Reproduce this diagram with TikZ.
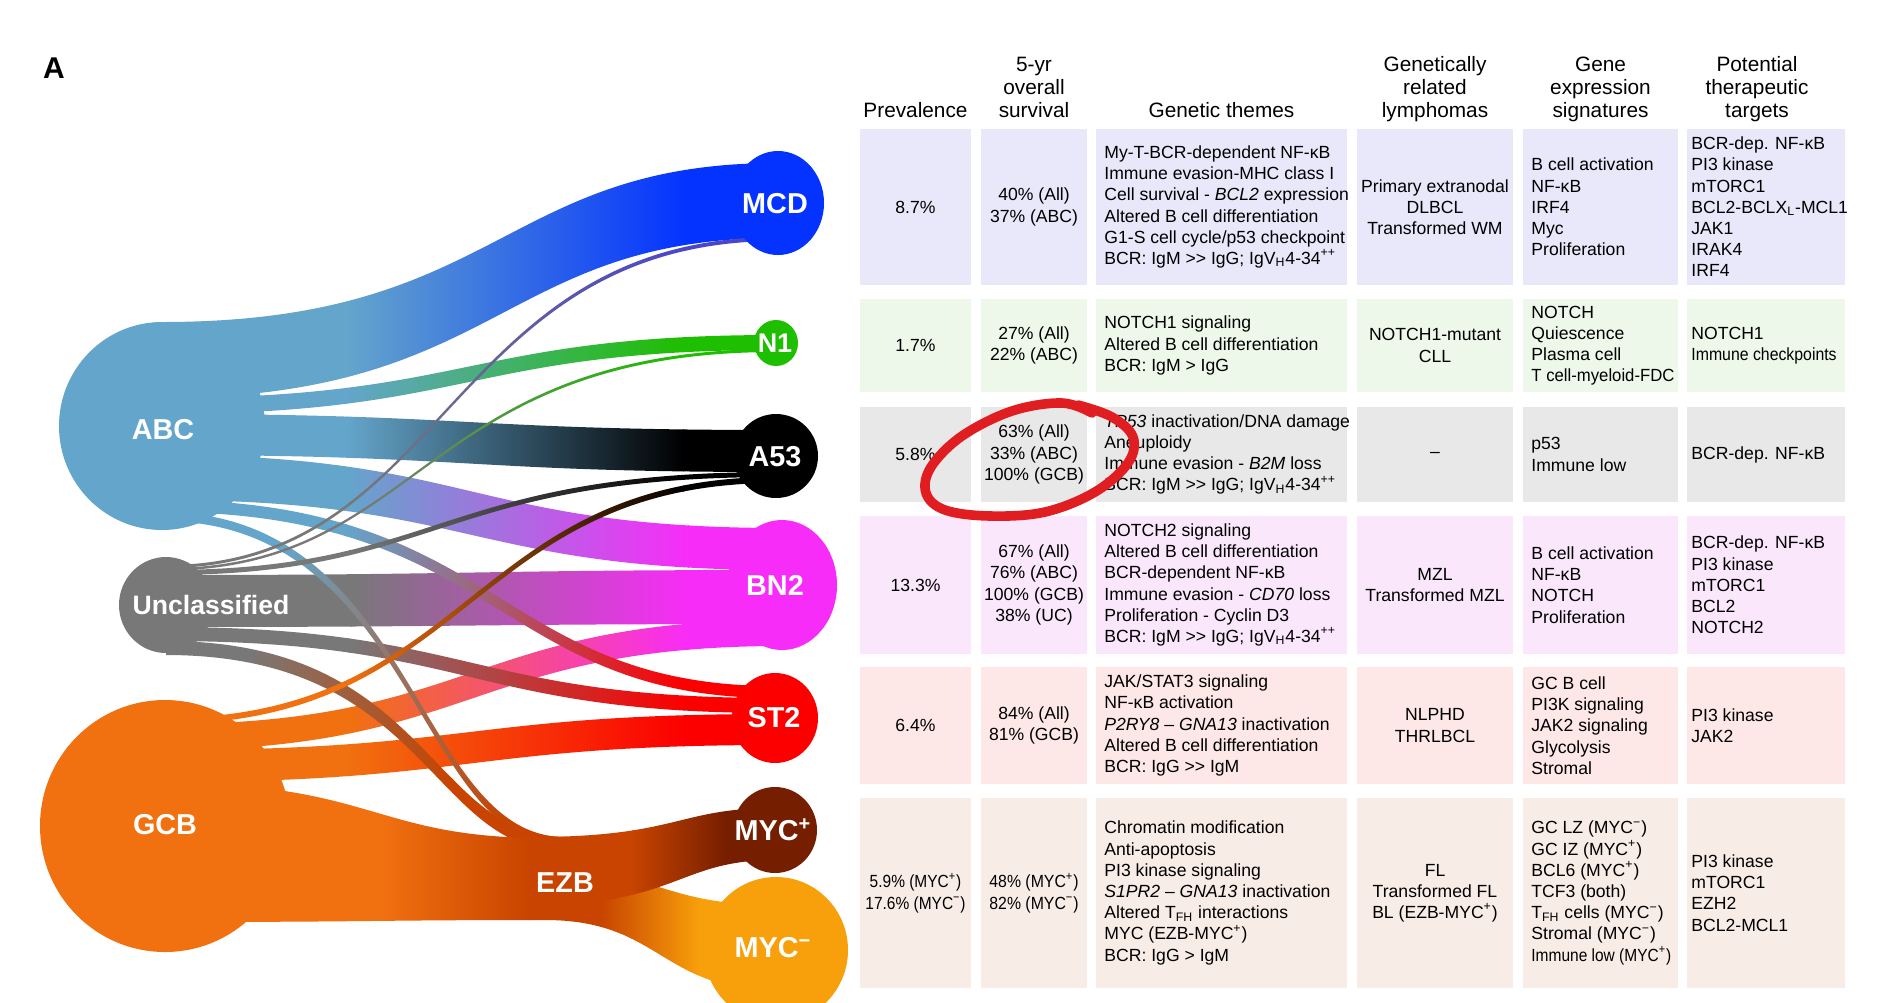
\documentclass[tikz,border=0pt]{standalone}
\usepackage{fontspec}
\setmainfont{Liberation Sans}
\usetikzlibrary{shapes.geometric}

\definecolor{cABC}{HTML}{64A5CB}
\definecolor{cUNC}{HTML}{787878}
\definecolor{cGCB}{HTML}{F1700F}
\definecolor{cMCD}{HTML}{0433FF}
\definecolor{cN1}{HTML}{1EBE00}
\definecolor{cA53}{HTML}{000000}
\definecolor{cBN2}{HTML}{F82CF8}
\definecolor{cST2}{HTML}{FC0000}
\definecolor{cMYCp}{HTML}{761E00}
\definecolor{cMYCm}{HTML}{F8A00B}
\definecolor{cEZB}{HTML}{C84400}
\definecolor{cSlate}{HTML}{4B46C8}
\definecolor{rowA}{HTML}{E8E8FA}
\definecolor{rowB}{HTML}{EDF7EA}
\definecolor{rowC}{HTML}{E8E8E8}
\definecolor{rowD}{HTML}{FBE7FB}
\definecolor{rowE}{HTML}{FDE7E7}
\definecolor{rowF}{HTML}{F8ECE7}
\definecolor{penred}{HTML}{E01E22}

\newcommand\flowga{0.3}
\newcommand\flowgb{0.85}
% #1 source colour, #2 target colour, #3 x0, #4 x1, #5 top0, #6 bottom0, #7 top1, #8 bottom1, #9 control position
\newcommand\flow[9]{%
  \pgfmathsetmacro\fxa{#3+\flowga*(#4-#3)}%
  \pgfmathsetmacro\fxb{#3+\flowgb*(#4-#3)}%
  \pgfmathsetmacro\fcx{#3+#9*(#4-#3)}%
  \begin{scope}
    \clip (#3,#5) .. controls (\fcx,#5) and (\fcx,#7) .. (#4,#7)
      -- (#4,#8) .. controls (\fcx,#8) and (\fcx,#6) .. (#3,#6) -- cycle;
    \fill[#1] (#3-2,0) rectangle (\fxa+1,1010);
    \shade[left color=#1,right color=#2] (\fxa,0) rectangle (\fxb,1010);
    \fill[#2] (\fxb-1,0) rectangle (#4+2,1010);
  \end{scope}}

\newcommand\tabrow[3]{%
  \foreach \xl/\xr in {860/971,981/1087,1096/1347,1357/1513,1523/1678,1687/1845}{%
    \fill[#1] (\xl,#2) rectangle (\xr,#3);}}

\begin{document}
\begin{tikzpicture}[x=0.5pt,y=-0.5pt,
  blob/.style={ellipse,inner sep=0pt,draw=none},
  lbl/.style={text=white,inner sep=0pt,font=\bfseries\fontsize{14.4}{16}\selectfont},
  hdr/.style={anchor=base,inner sep=0pt,font=\fontsize{10.4}{11.5}\selectfont},
  cellc/.style={anchor=center,align=center,inner sep=0pt,font=\fontsize{8.8}{10.6}\selectfont},
  celll/.style={anchor=west,align=left,inner sep=0pt,font=\fontsize{8.8}{10.6}\selectfont}]
\useasboundingbox (0,0) rectangle (1878,1002);
\clip (0,0) rectangle (1878,1002);

\node[inner sep=0pt,font=\bfseries\fontsize{15}{17}\selectfont] (panel) at (54,68) {A};

% ---------------- flows (back) ----------------
\flow{cABC}{cMCD}{162}{778}{322}{398}{163}{238}{0.55}
\flow{cABC}{cN1}{162}{776}{398}{414}{335}{350}{0.5}
\flow{cABC}{cA53}{162}{776}{414}{455}{430}{472}{0.5}
\flow{cABC}{cBN2}{162}{782}{455}{500}{528}{570}{0.5}
\flow{cUNC}{cBN2}{166}{782}{575}{627}{570}{624}{0.5}
\flow{cGCB}{cBN2}{165}{782}{724}{750}{620}{646}{0.5}
\flow{cGCB}{cST2}{165}{775}{750}{782}{714}{745}{0.5}

% ---------------- crossing flows ----------------
\flow{cABC}{cST2}{162}{775}{500}{512}{686}{698}{0.55}
\flow{cUNC}{cST2}{166}{775}{627}{641}{698}{713}{0.5}
\renewcommand\flowga{0.2}\renewcommand\flowgb{0.72}
\flow{cUNC}{cEZB}{166}{565}{641}{655}{837}{851}{0.66}
\renewcommand\flowga{0.3}\renewcommand\flowgb{0.85}
\flow{cABC}{cEZB}{162}{565}{512}{521}{837}{846}{0.63}

% ---------------- EZB bundle ----------------
\renewcommand\flowga{0.24}\renewcommand\flowgb{0.67}
\flow{cEZB}{cMYCm}{545}{776}{870}{920}{905}{990}{0.5}
\renewcommand\flowga{0.57}\renewcommand\flowgb{0.96}
\flow{cGCB}{cEZB}{165}{545}{783}{922}{838}{920}{0.55}
\renewcommand\flowga{0.41}\renewcommand\flowgb{0.8}
\flow{cEZB}{cMYCp}{532}{775}{837}{905}{808}{860}{0.6}
\renewcommand\flowga{0.3}\renewcommand\flowgb{0.85}

% ---------------- thin flows (front) ----------------
\flow{cGCB}{cA53}{165}{776}{718}{724}{477}{483}{0.5}
\flow{cUNC}{cA53}{166}{776}{570}{575}{472}{477}{0.45}
\flow{cUNC}{cN1}{166}{776}{568}{570.5}{349}{352}{0.42}
\flow{cUNC}{cSlate}{166}{778}{565}{568}{237}{241}{0.46}

% ---------------- nodes ----------------
\node[blob,fill=cABC,minimum width=103pt,minimum height=104pt] (abc) at (162,426) {};
\node[blob,fill=cUNC,minimum width=47pt,minimum height=48pt] (unc) at (166,605) {};
\node[blob,fill=cGCB,minimum width=125pt,minimum height=126pt] (gcb) at (165,826) {};
\node[blob,fill=cMCD,minimum width=46pt,minimum height=52pt] (mcd) at (778,203) {};
\node[blob,fill=cN1,minimum width=22pt,minimum height=23pt] (n1) at (776,343) {};
\node[blob,fill=cA53,minimum width=42pt,minimum height=42pt] (a53) at (776,456) {};
\node[blob,fill=cBN2,minimum width=55pt,minimum height=65pt] (bn2) at (782,585) {};
\node[blob,fill=cST2,minimum width=43pt,minimum height=45pt] (st2) at (775,718) {};
\node[blob,fill=cMYCp,minimum width=42pt,minimum height=43pt] (mycp) at (775,830) {};
\node[blob,fill=cMYCm,minimum width=72pt,minimum height=73pt] (mycm) at (776,950) {};

\node[lbl] (abcl) at (163,430) {ABC};
\node[lbl,font=\bfseries\fontsize{13.3}{15}\selectfont] (uncl) at (211,605) {Unclassified};
\node[lbl] (gcbl) at (165,825) {GCB};
\node[lbl] (ezbl) at (565,883) {EZB};
\node[lbl] (mcdl) at (775,204) {MCD};
\node[lbl,font=\bfseries\fontsize{13.5}{15}\selectfont] (n1l) at (775,343) {N1};
\node[lbl] (a53l) at (775,457) {A53};
\node[lbl] (bn2l) at (775,585) {BN2};
\node[lbl] (st2l) at (774,718) {ST2};
\node[lbl] (mycpl) at (773,830) {MYC\textsuperscript{+}};
\node[lbl] (mycml) at (773,948) {MYC\textsuperscript{−}};

% ---------------- table ----------------
\tabrow{rowA}{129}{285}
\tabrow{rowB}{299}{392}
\tabrow{rowC}{407}{502}
\tabrow{rowD}{516}{654}
\tabrow{rowE}{667}{784}
\tabrow{rowF}{798}{988}

\node[hdr] (h1) at (915.5,117) {Prevalence};
\node[hdr] (h2a) at (1034,71) {5-yr};
\node[hdr] (h2b) at (1034,94) {overall};
\node[hdr] (h2c) at (1034,117) {survival};
\node[hdr] (h3) at (1221.5,117) {Genetic themes};
\node[hdr] (h4a) at (1435,71) {Genetically};
\node[hdr] (h4b) at (1435,94) {related};
\node[hdr] (h4c) at (1435,117) {lymphomas};
\node[hdr] (h5a) at (1600.5,71) {Gene};
\node[hdr] (h5b) at (1600.5,94) {expression};
\node[hdr] (h5c) at (1600.5,117) {signatures};
\node[hdr] (h6a) at (1757,71) {Potential};
\node[hdr] (h6b) at (1757,94) {therapeutic};
\node[hdr] (h6c) at (1757,117) {targets};

% row 1 MCD
\node[cellc] (r1c1) at (915.5,207) {8.7\%};
\node[cellc] (r1c2) at (1034,207) {40\% (All)\\37\% (ABC)};
\node[celll] (r1c3) at (1104,207) {My-T-BCR-dependent NF-κB\\Immune evasion-MHC class I\\Cell survival - \textit{BCL2} expression\\Altered B cell differentiation\\G1-S cell cycle/p53 checkpoint\\BCR: IgM >{}> IgG; IgV\textsubscript{H}4-34\textsuperscript{++}};
\node[cellc] (r1c4) at (1435,207) {Primary extranodal\\DLBCL\\Transformed WM};
\node[celll] (r1c5) at (1531,207) {B cell activation\\NF-κB\\IRF4\\Myc\\Proliferation};
\node[celll] (r1c6) at (1691,207) {BCR-dep. NF-κB\\PI3 kinase\\mTORC1\\BCL2-BCLX\textsubscript{L}-MCL1\\JAK1\\IRAK4\\IRF4};

% row 2 N1
\node[cellc] (r2c1) at (915.5,345.5) {1.7\%};
\node[cellc] (r2c2) at (1034,345.5) {27\% (All)\\22\% (ABC)};
\node[celll] (r2c3) at (1104,345.5) {NOTCH1 signaling\\Altered B cell differentiation\\BCR: IgM > IgG};
\node[cellc] (r2c4) at (1435,345.5) {NOTCH1-mutant\\CLL};
\node[celll] (r2c5) at (1531,345.5) {NOTCH\\Quiescence\\Plasma cell\\\scalebox{0.95}[1]{T cell-myeloid-FDC}};
\node[celll] (r2c6) at (1691,345.5) {NOTCH1\\\scalebox{0.9}[1]{Immune checkpoints}};

% row 3 A53
\node[cellc] (r3c1) at (915.5,454.5) {5.8\%};
\node[cellc] (r3c2) at (1034,454.5) {63\% (All)\\33\% (ABC)\\100\% (GCB)};
\node[celll] (r3c3) at (1104,454.5) {\textit{TP53} inactivation/DNA damage\\Aneuploidy\\Immune evasion - \textit{B2M} loss\\BCR: IgM >{}> IgG; IgV\textsubscript{H}4-34\textsuperscript{++}};
\node[cellc] (r3c4) at (1435,454.5) {–};
\node[celll] (r3c5) at (1531,454.5) {p53\\Immune low};
\node[celll] (r3c6) at (1691,454.5) {BCR-dep. NF-κB};

% row 4 BN2
\node[cellc] (r4c1) at (915.5,585) {13.3\%};
\node[cellc] (r4c2) at (1034,585) {67\% (All)\\76\% (ABC)\\100\% (GCB)\\38\% (UC)};
\node[celll] (r4c3) at (1104,585) {NOTCH2 signaling\\Altered B cell differentiation\\BCR-dependent NF-κB\\Immune evasion - \textit{CD70} loss\\Proliferation - Cyclin D3\\BCR: IgM >{}> IgG; IgV\textsubscript{H}4-34\textsuperscript{++}};
\node[cellc] (r4c4) at (1435,585) {MZL\\Transformed MZL};
\node[celll] (r4c5) at (1531,585) {B cell activation\\NF-κB\\NOTCH\\Proliferation};
\node[celll] (r4c6) at (1691,585) {BCR-dep. NF-κB\\PI3 kinase\\mTORC1\\BCL2\\NOTCH2};

% row 5 ST2
\node[cellc] (r5c1) at (915.5,725.5) {6.4\%};
\node[cellc] (r5c2) at (1034,725.5) {84\% (All)\\81\% (GCB)};
\node[celll] (r5c3) at (1104,725.5) {JAK/STAT3 signaling\\NF-κB activation\\\textit{P2RY8} – \textit{GNA13} inactivation\\Altered B cell differentiation\\BCR: IgG >{}> IgM};
\node[cellc] (r5c4) at (1435,725.5) {NLPHD\\THRLBCL};
\node[celll] (r5c5) at (1531,725.5) {GC B cell\\PI3K signaling\\JAK2 signaling\\Glycolysis\\Stromal};
\node[celll] (r5c6) at (1691,725.5) {PI3 kinase\\JAK2};

% row 6 EZB
\node[cellc] (r6c1) at (915.5,893) {\scalebox{0.88}[1]{5.9\% (MYC\textsuperscript{+})}\\\scalebox{0.88}[1]{17.6\% (MYC\textsuperscript{−})}};
\node[cellc] (r6c2) at (1034,893) {\scalebox{0.9}[1]{48\% (MYC\textsuperscript{+})}\\\scalebox{0.9}[1]{82\% (MYC\textsuperscript{−})}};
\node[celll] (r6c3) at (1104,893) {Chromatin modification\\Anti-apoptosis\\PI3 kinase signaling\\\textit{S1PR2} – \textit{GNA13} inactivation\\Altered T\textsubscript{FH} interactions\\MYC (EZB-MYC\textsuperscript{+})\\BCR: IgG > IgM};
\node[cellc] (r6c4) at (1435,893) {FL\\Transformed FL\\BL (EZB-MYC\textsuperscript{+})};
\node[celll] (r6c5) at (1531,893) {GC LZ (MYC\textsuperscript{−})\\GC IZ (MYC\textsuperscript{+})\\BCL6 (MYC\textsuperscript{+})\\TCF3 (both)\\T\textsubscript{FH} cells (MYC\textsuperscript{−})\\Stromal (MYC\textsuperscript{−})\\\scalebox{0.88}[1]{Immune low (MYC\textsuperscript{+})}};
\node[celll] (r6c6) at (1691,893) {PI3 kinase\\mTORC1\\EZH2\\BCL2-MCL1};

% ---------------- hand-drawn red loop ----------------
\draw[penred,line width=4.8pt,line cap=round,line join=round]
  plot[smooth,tension=0.6] coordinates {(1092,413) (1062,403) (1012,411) (962,436) (931,467) (926,493) (945,510) (990,516) (1045,512) (1095,492) (1128,463) (1133,437) (1112,417) (1078,405)};
\end{tikzpicture}
\end{document}
